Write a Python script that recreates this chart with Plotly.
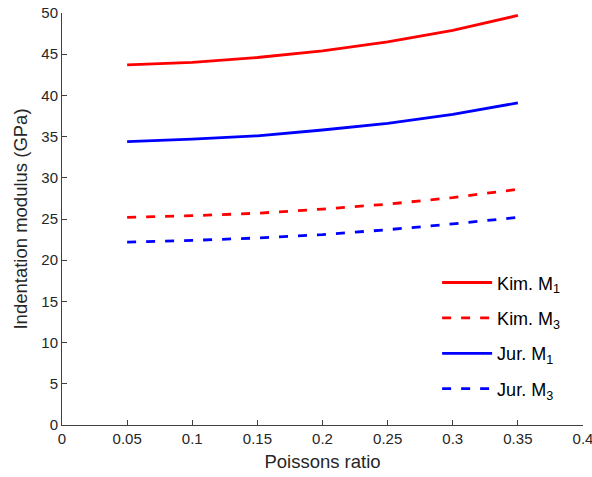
import plotly.graph_objects as go

poisson = [0.05, 0.10, 0.15, 0.20, 0.25, 0.30, 0.35]
kim_m1 = [43.7, 44.0, 44.6, 45.4, 46.5, 47.9, 49.7]
kim_m3 = [25.2, 25.4, 25.7, 26.2, 26.8, 27.6, 28.6]
jur_m1 = [34.4, 34.7, 35.1, 35.8, 36.6, 37.7, 39.1]
jur_m3 = [22.2, 22.4, 22.7, 23.1, 23.7, 24.4, 25.2]

x_ticks = [0, 0.05, 0.1, 0.15, 0.2, 0.25, 0.3, 0.35, 0.4]
x_tick_labels = ["0", "0.05", "0.1", "0.15", "0.2", "0.25", "0.3", "0.35", "0.4"]

series = [
    ("Kim. M<sub>1</sub>", kim_m1, "#ff0000", "solid"),
    ("Kim. M<sub>3</sub>", kim_m3, "#ff0000", "9px,10px"),
    ("Jur. M<sub>1</sub>", jur_m1, "#0000ff", "solid"),
    ("Jur. M<sub>3</sub>", jur_m3, "#0000ff", "9px,10px"),
]

fig = go.Figure()
for i, (name, vals, color, dash) in enumerate(series):
    fig.add_trace(go.Scatter(
        x=poisson, y=vals, mode="lines", name=name,
        legendgroup=f"g{i}",
        line=dict(color=color, width=2.8, dash=dash),
    ))

axis_color = "#404040"
family = "Liberation Sans, Arial, sans-serif"
font = dict(family=family, size=15, color="#262626")

fig.update_layout(
    width=592, height=477,
    margin=dict(l=62, r=9, t=13, b=52),
    paper_bgcolor="white", plot_bgcolor="white",
    font=font,
    legend=dict(
        x=0.72, y=0.39, xanchor="left", yanchor="top",
        bgcolor="rgba(0,0,0,0)", borderwidth=0,
        font=dict(family=family, size=18, color="#000000"),
        tracegroupgap=9, itemwidth=50,
    ),
    xaxis=dict(
        range=[0, 0.4], tickmode="array", tickvals=x_ticks, ticktext=x_tick_labels,
        showgrid=False, zeroline=False,
        showline=True, linecolor=axis_color, linewidth=1,
        ticks="inside", ticklen=5, tickcolor=axis_color,
        ticklabeloverflow="allow",
        automargin=False,
        title=dict(text="Poissons ratio", font=dict(family=family, size=18.5, color="#262626"), standoff=9),
    ),
    yaxis=dict(
        range=[0, 50], dtick=5, tick0=0,
        showgrid=False, zeroline=False,
        showline=True, linecolor=axis_color, linewidth=1,
        ticks="inside", ticklen=5, tickcolor=axis_color,
        ticklabeloverflow="allow",
        automargin=False,
        title=dict(text="Indentation modulus (GPa)", font=dict(family=family, size=18.5, color="#262626"), standoff=8),
    ),
)

fig.write_html("out.html")
